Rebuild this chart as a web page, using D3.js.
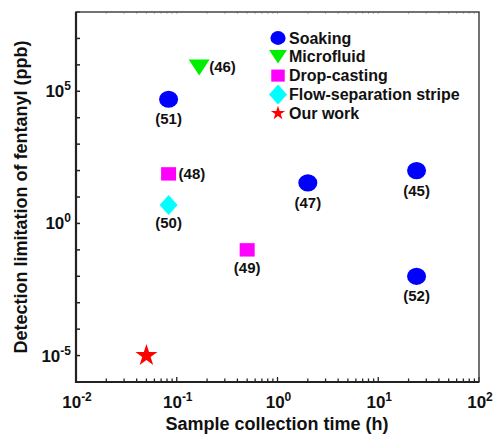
<!DOCTYPE html>
<html>
<head>
<meta charset="utf-8">
<script src="https://cdn.jsdelivr.net/npm/d3@7"></script>
<style>
  body { margin: 0; background: #fff; }
  text { font-family: "Liberation Sans", Arial, Helvetica, sans-serif; font-weight: bold; fill: #111; }
</style>
</head>
<body>
<svg id="chart" width="495" height="434"></svg>
<script>
// values (time in h, limit in ppb)
const soaking = [
  { t: 0.083, lod: 5e4, ref: '(51)' },
  { t: 2, lod: 34, ref: '(47)' },
  { t: 24, lod: 100, ref: '(45)' },
  { t: 24, lod: 0.01, ref: '(52)' }
];
const microfluid = [{ t: 0.167, lod: 8e5, ref: '(46)' }];
const dropCasting = [
  { t: 0.083, lod: 75, ref: '(48)' },
  { t: 0.5, lod: 0.1, ref: '(49)' }
];
const flowStripe = [{ t: 0.083, lod: 5, ref: '(50)' }];
const ourWork = [{ t: 0.05, lod: 1e-5, ref: '' }];

const seriesNames = ['Soaking', 'Microfluid', 'Drop-casting', 'Flow-separation stripe', 'Our work'];
const xTickExps = [-2, -1, 0, 1, 2];
const yTickExps = [-5, 0, 5];

// which side of the marker each reference label sits on
const labelRight = new Set(['(46)', '(48)']);

const svg = d3.select('#chart');
const plotLeft = 76, plotRight = 479, plotTop = 12, plotBottom = 382;

const x = d3.scaleLog().domain([1e-2, 1e2]).range([plotLeft, plotRight]);
const y = d3.scaleLog().domain([1e-6, 1e8]).range([plotBottom, plotTop]);

// marker shapes, centred on 0,0
const shapes = {
  circle: (s) => `M${-9.5 * s},0A${9.5 * s},${8.6 * s} 0 1,0 ${9.5 * s},0A${9.5 * s},${8.6 * s} 0 1,0 ${-9.5 * s},0Z`,
  triangle: (s) => `M${-10.5 * s},${-8 * s}L${10.5 * s},${-8 * s}L0,${8 * s}Z`,
  square: (s) => `M${-7.5 * s},${-6.7 * s}h${15 * s}v${13.4 * s}h${-15 * s}Z`,
  diamond: (s) => `M0,${-10 * s}L${9 * s},0L0,${10 * s}L${-9 * s},0Z`,
  star: (s) => d3.symbol(d3.symbolStar, 150 * s * s)()
};

const series = [
  { name: seriesNames[0], data: soaking, shape: 'circle', color: '#0000ff', legendScale: 0.8 },
  { name: seriesNames[1], data: microfluid, shape: 'triangle', color: '#00ee00', legendScale: 0.85 },
  { name: seriesNames[2], data: dropCasting, shape: 'square', color: '#ff00ff', legendScale: 0.9 },
  { name: seriesNames[3], data: flowStripe, shape: 'diamond', color: '#00ffff', legendScale: 1 },
  { name: seriesNames[4], data: ourWork, shape: 'star', color: '#ff0000', legendScale: 0.65 }
];

// ticks (inward)
const axisG = svg.append('g');
const xMinor = [];
for (let e = -2; e < 2; e++) {
  for (let k = 1; k < 10; k++) xMinor.push(k * Math.pow(10, e));
}
xMinor.push(100);
axisG.selectAll('line.xt')
  .data(xMinor)
  .enter()
  .append('line')
  .attr('x1', (d) => x(d))
  .attr('x2', (d) => x(d))
  .attr('y1', plotBottom)
  .attr('y2', (d) => plotBottom - (Math.abs(Math.log10(d) % 1) < 1e-9 ? 5 : 3.5))
  .attr('stroke', '#222')
  .attr('stroke-width', 1.3);
// faint mirrored ticks on top
axisG.selectAll('line.xtt')
  .data(xMinor)
  .enter()
  .append('line')
  .attr('x1', (d) => x(d))
  .attr('x2', (d) => x(d))
  .attr('y1', plotTop)
  .attr('y2', plotTop + 2)
  .attr('stroke', '#bbb')
  .attr('stroke-width', 1);

const yDecades = d3.range(-6, 9);
axisG.selectAll('line.yt')
  .data(yDecades)
  .enter()
  .append('line')
  .attr('x1', plotLeft)
  .attr('x2', plotLeft + 4)
  .attr('y1', (d) => y(Math.pow(10, d)))
  .attr('y2', (d) => y(Math.pow(10, d)))
  .attr('stroke', '#222')
  .attr('stroke-width', 1.5);

// frame
svg.append('rect')
  .attr('x', plotLeft)
  .attr('y', plotTop)
  .attr('width', plotRight - plotLeft)
  .attr('height', plotBottom - plotTop)
  .attr('fill', 'none')
  .attr('stroke', '#444')
  .attr('stroke-width', 1.5);
svg.append('path')
  .attr('d', `M${plotLeft},${plotTop}V${plotBottom}H${plotRight}`)
  .attr('fill', 'none')
  .attr('stroke', '#222')
  .attr('stroke-width', 2.2);

// tick labels with superscript exponents
function powLabel(sel, e) {
  sel.append('tspan').text('10').attr('font-size', 17);
  sel.append('tspan').text(e).attr('font-size', 12).attr('dy', -7);
}
xTickExps.forEach((e) => {
  const t = svg.append('text')
    .attr('x', x(Math.pow(10, e)) + 1)
    .attr('y', 408)
    .attr('text-anchor', 'middle');
  powLabel(t, e);
});
yTickExps.forEach((e) => {
  const t = svg.append('text')
    .attr('x', 71)
    .attr('y', y(Math.pow(10, e)) + 6)
    .attr('text-anchor', 'end');
  powLabel(t, e);
});

// axis titles
svg.append('text')
  .attr('x', 277)
  .attr('y', 430)
  .attr('text-anchor', 'middle')
  .attr('font-size', 18)
  .text('Sample collection time (h)');
svg.append('text')
  .attr('transform', 'translate(27,197) rotate(-90)')
  .attr('text-anchor', 'middle')
  .attr('font-size', 18)
  .text('Detection limitation of fentanyl (ppb)');

// markers and reference labels
series.forEach((s) => {
  const g = svg.append('g');
  g.selectAll('path')
    .data(s.data)
    .enter()
    .append('path')
    .attr('transform', (d) => `translate(${x(d.t)},${y(d.lod)})`)
    .attr('d', shapes[s.shape](1))
    .attr('fill', s.color);
  g.selectAll('text')
    .data(s.data.filter((d) => d.ref))
    .enter()
    .append('text')
    .attr('font-size', 15)
    .attr('x', (d) => (labelRight.has(d.ref) ? x(d.t) + 10 : x(d.t)))
    .attr('y', (d) => (labelRight.has(d.ref) ? y(d.lod) + 5 : y(d.lod) + (s.shape === 'circle' ? 25 : 23)))
    .attr('text-anchor', (d) => (labelRight.has(d.ref) ? 'start' : 'middle'))
    .text((d) => d.ref);
});

// legend
const legend = svg.append('g').attr('transform', 'translate(278,38)');
series.forEach((s, i) => {
  const row = legend.append('g').attr('transform', `translate(0,${i * 18.8})`);
  row.append('path').attr('d', shapes[s.shape](s.legendScale)).attr('fill', s.color);
  row.append('text')
    .attr('x', 11)
    .attr('y', 5.5)
    .attr('font-size', 16)
    .text(s.name);
});
</script>
</body>
</html>
